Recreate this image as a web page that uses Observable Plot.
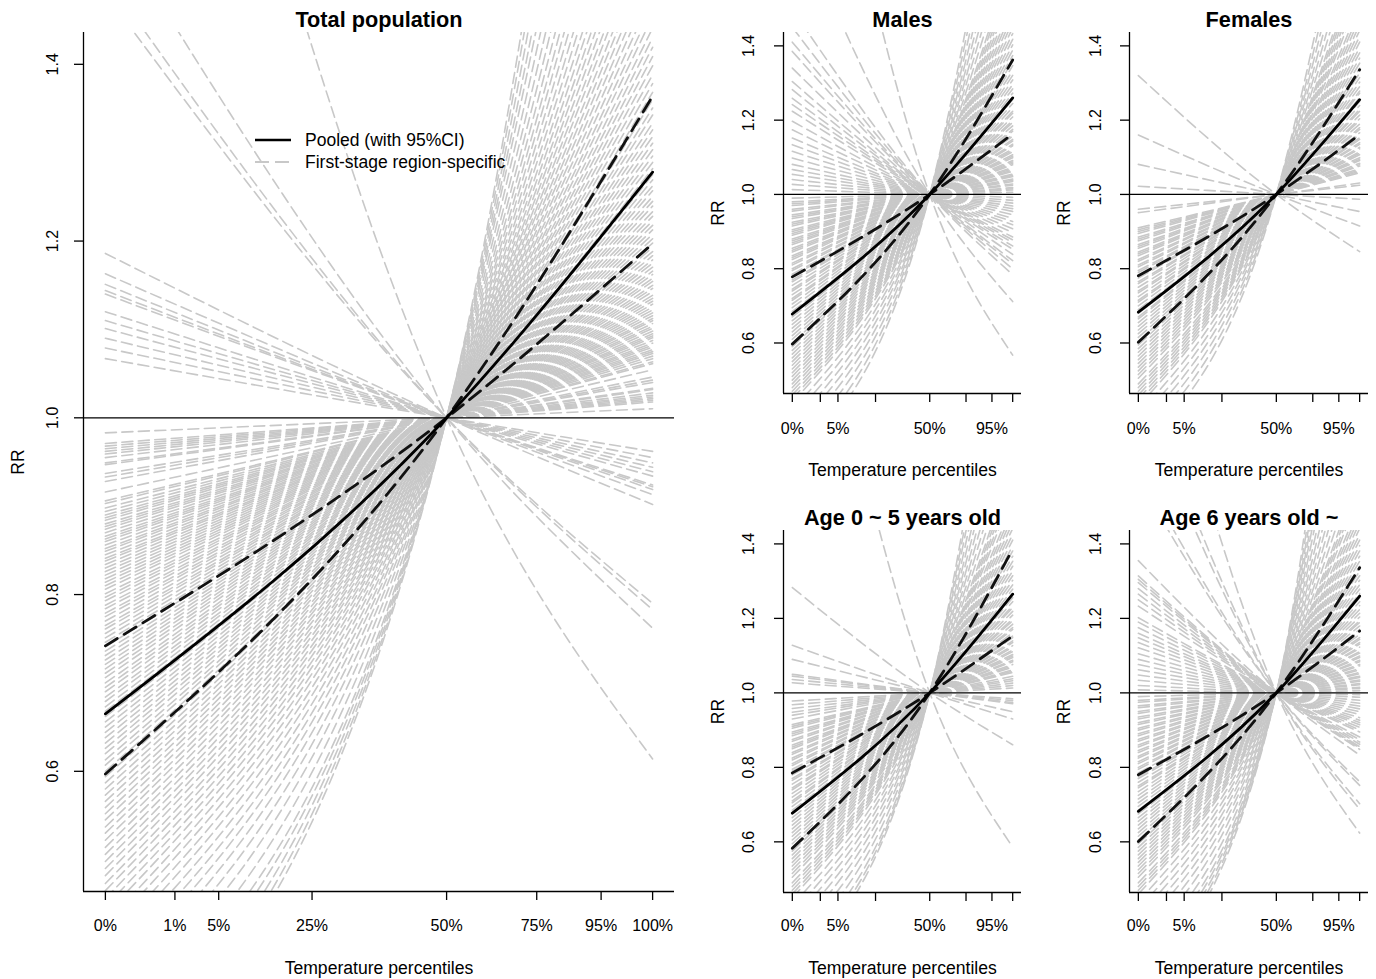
<!DOCTYPE html>
<html><head><meta charset="utf-8">
<script src="https://cdn.jsdelivr.net/npm/d3@7"></script>
<script src="https://cdn.jsdelivr.net/npm/@observablehq/plot@0.6"></script>
<style>
body{margin:0;background:#fff;}
#wrap{position:relative;width:1376px;height:979px;overflow:hidden;background:#fff;font-family:"Liberation Sans",Arial,sans-serif;}
.panel{position:absolute;}
#legend{position:absolute;left:0;top:0;font-size:17.5px;color:#000;}
#legend .it{position:absolute;white-space:nowrap;}
</style></head><body><div id="wrap"></div>
<script>
// ---- axis data ----
const pctLabels = ["0%","1%","5%","25%","50%","75%","95%","100%"];
const pctLabelsSmall = ["0%","","5%","","50%","","95%",""];
const pctTemps = [-11.5, -6.1, -2.7, 4.55, 15.0, 22.0, 27.0, 31.0];
const rrTicks = [0.6, 0.8, 1.0, 1.2, 1.4];
const xDomain = [-13.2, 32.7];
const yDomain = [0.464, 1.436];

// ---- Total population ----
const totalRR0 = [1.186,1.163,1.151,1.144,1.140,1.120,1.110,1.101,1.090,1.079,1.067,1.48,1.50,1.57,2.25,
0.983,0.971,0.968,0.965,0.962,0.959,0.955,0.949,0.947,0.937,0.933,0.928,0.916,0.906,0.903,0.898,0.894,0.890,0.887,0.884,
0.880,0.877,0.874,0.870,0.866,0.863,0.860,0.856,0.852,0.849,0.845,0.841,0.838,0.834,0.830,0.826,0.822,0.818,0.814,0.810,
0.806,0.801,0.797,0.793,0.788,0.784,0.779,0.775,0.770,0.765,0.761,0.756,0.751,0.746,0.741,0.736,0.731,0.726,0.721,0.716,
0.711,0.706,0.700,0.695,0.690,0.684,0.679,0.673,0.668,0.662,0.656,0.650,0.644,0.638,0.632,0.626,0.620,0.613,0.607,0.600,
0.594,0.587,0.580,0.573,0.566,0.559,0.552,0.545,0.537,0.530,0.522,0.514,0.506,0.498,0.490,0.482,0.473,0.465,0.456,0.447,
0.438,0.428,0.418,0.407,0.396,0.384,0.372,0.360,0.347,0.333,0.318,0.302,0.286,0.270,0.252,0.235,0.220];
const totalRR100 = [0.902,0.913,0.919,0.922,0.924,0.934,0.939,0.944,0.949,0.955,0.962,0.790,0.783,0.762,0.614,
1.0103,1.0179,1.0198,1.0217,1.0236,1.0255,1.0282,1.0320,1.0334,1.0400,1.0427,1.0461,1.0543,1.0613,1.0634,1.0669,1.0698,1.0727,1.0749,1.0771,
1.0800,1.0822,1.0845,1.0875,1.0905,1.0927,1.0950,1.0981,1.1012,1.1036,1.1067,1.1099,1.1123,1.1155,1.1187,1.1220,1.1253,1.1286,1.1319,1.1352,
1.1386,1.1429,1.1464,1.1499,1.1543,1.1578,1.1622,1.1659,1.1704,1.1750,1.1787,1.1834,1.1881,1.1929,1.1977,1.2026,1.2076,1.2126,1.2177,1.2228,
1.2280,1.2332,1.2395,1.2449,1.2503,1.2569,1.2624,1.2692,1.2749,1.2819,1.2890,1.2961,1.3034,1.3107,1.3182,1.3258,1.3334,1.3426,1.3506,1.3600,
1.3683,1.3781,1.3881,1.3983,1.4087,1.4193,1.4301,1.4411,1.4540,1.4655,1.4790,1.4928,1.5070,1.5216,1.5367,1.5518,1.5697,1.5858,1.6046,1.6240,
1.6439,1.6671,1.6907,1.7185,1.7470,1.7796,1.8142,1.8497,1.8918,1.9393,1.9935,2.0565,2.1256,2.2009,2.2945,2.395,2.488];
const totalPooled = [0.665, 1, 1.278];
const totalCIa = [0.742, 1, 1.197];
const totalCIb = [0.597, 1, 1.364];

// ---- Males ----
const malesRR0 = [1.45,1.41,1.385,1.340,1.304,1.282,1.259,1.242,1.224,1.197,1.174,1.152,1.134,1.116,1.098,1.081,1.067,1.054,1.040,1.027,1.013,1.498,1.76,2.565,
0.990,0.980,0.975,0.970,0.960,0.955,0.945,0.940,0.935,0.925,0.920,0.915,0.905,0.900,0.895,0.890,0.880,0.875,0.870,0.865,
0.855,0.850,0.845,0.835,0.830,0.825,0.815,0.810,0.800,0.795,0.785,0.780,0.770,0.765,0.755,0.745,0.740,0.730,0.720,0.715,
0.705,0.695,0.685,0.680,0.670,0.660,0.650,0.640,0.630,0.620,0.610,0.600,0.590,0.580,0.570,0.560,0.550,0.540,0.530,0.520,
0.510,0.500,0.490,0.480,0.470,0.460,0.450,0.440,0.420,0.400,0.380,0.360,0.340,0.320,0.300,0.280];
const malesRR100 = [0.7995,0.8131,0.8219,0.8384,0.8523,0.8611,0.8705,0.8777,0.8854,0.8974,0.9079,0.9183,0.9271,0.9360,0.9453,0.9542,0.9617,0.9688,0.9767,0.9841,0.9922,0.7841,0.7116,0.5672,
1.006,1.012,1.0153,1.0185,1.0249,1.0282,1.0347,1.038,1.0414,1.0481,1.0515,1.0550,1.0620,1.0655,1.0691,1.0727,1.0800,1.0838,1.0875,1.0913,
1.0989,1.1028,1.1068,1.1147,1.1187,1.1228,1.1311,1.1352,1.1438,1.1482,1.1569,1.1613,1.1704,1.1750,1.1844,1.1939,1.1987,1.2086,1.2187,1.2239,
1.2343,1.2449,1.2558,1.2613,1.2726,1.2842,1.2961,1.3082,1.3207,1.3334,1.3466,1.3600,1.3738,1.3881,1.4027,1.4177,1.4332,1.4491,1.4655,1.4824,
1.4998,1.5178,1.5367,1.5556,1.5758,1.5959,1.6176,1.6392,1.6857,1.7361,1.7905,1.8497,1.9144,1.9856,2.0644,2.1518];
const malesPooled = [0.678, 1, 1.260];
const malesCIa = [0.778, 1, 1.163];
const malesCIb = [0.597, 1, 1.362];

// ---- Females ----
const femalesRR0 = [1.32,1.16,1.081,1.022,
0.960,0.951,0.910,0.905,0.900,0.895,0.885,0.880,0.875,0.865,0.860,0.855,0.845,0.840,0.835,0.825,0.820,0.810,0.805,0.795,
0.790,0.780,0.775,0.765,0.760,0.750,0.740,0.735,0.725,0.715,0.710,0.700,0.690,0.680,0.670,0.665,0.655,0.645,0.635,0.625,
0.615,0.605,0.595,0.585,0.575,0.565,0.555,0.545,0.535,0.525,0.515,0.505,0.490,0.480,0.470,0.460,0.450,0.440,0.430,0.410,
0.390,0.370,0.350,0.330,0.310];
const femalesRR100 = [0.846,0.915,0.954,0.987,
1.0249,1.0308,1.0584,1.0620,1.0655,1.0691,1.0764,1.0800,1.0838,1.0913,1.0950,1.0989,1.1068,1.1107,1.1147,1.1228,1.1269,1.1352,1.1395,1.1482,
1.1525,1.1613,1.1659,1.1750,1.1796,1.1891,1.1987,1.2037,1.2137,1.2239,1.2290,1.2395,1.2503,1.2613,1.2726,1.2784,1.2902,1.3022,1.3145,1.3271,
1.3400,1.3533,1.3669,1.3810,1.3954,1.4102,1.4255,1.4412,1.4573,1.4740,1.4911,1.5088,1.5367,1.5556,1.5758,1.5959,1.6176,1.6392,1.6625,1.7109,
1.7633,1.8201,1.8821,1.9500,2.0250];
const femalesPooled = [0.683, 1, 1.255];
const femalesCIa = [0.781, 1, 1.161];
const femalesCIb = [0.602, 1, 1.336];

// ---- Age 0 ~ 5 ----
const age05RR0 = [1.283,1.128,1.090,1.050,1.045,1.036,1.027,2.43,
0.978,0.968,0.958,0.948,0.940,0.930,0.915,0.910,0.905,0.895,0.890,0.885,0.875,0.870,0.860,0.855,0.850,0.840,0.835,0.825,
0.820,0.810,0.805,0.795,0.790,0.780,0.770,0.765,0.755,0.745,0.740,0.730,0.720,0.710,0.705,0.695,0.685,0.675,0.665,0.655,
0.645,0.635,0.625,0.615,0.605,0.595,0.585,0.575,0.565,0.555,0.545,0.535,0.525,0.515,0.505,0.490,0.480,0.470,0.460,0.450,
0.430,0.410,0.390,0.370,0.350,0.330,0.310,0.290,0.270,0.250];
const age05RR100 = [0.8607,0.930,0.9494,0.971,0.9738,0.979,0.984,0.586,
1.0132,1.0198,1.0262,1.0327,1.038,1.0447,1.0550,1.0584,1.0620,1.0691,1.0727,1.0764,1.0838,1.0875,1.0950,1.0989,1.1028,1.1107,1.1147,1.1228,
1.1269,1.1352,1.1395,1.1482,1.1525,1.1613,1.1704,1.1750,1.1844,1.1939,1.1987,1.2086,1.2187,1.2290,1.2343,1.2449,1.2558,1.2670,1.2784,1.2902,
1.3022,1.3145,1.3271,1.3400,1.3533,1.3669,1.3810,1.3954,1.4102,1.4255,1.4412,1.4573,1.4740,1.4911,1.5088,1.5367,1.5556,1.5758,1.5959,1.6176,
1.6625,1.7109,1.7633,1.8201,1.8821,1.9500,2.0250,2.107,2.200,2.305];
const age05Pooled = [0.677, 1, 1.265];
const age05CIa = [0.785, 1, 1.153];
const age05CIb = [0.583, 1, 1.386];

// ---- Age 6 ~ ----
const age6RR0 = [1.355,1.314,1.305,1.296,1.280,1.265,1.250,1.233,1.202,1.190,1.175,1.160,1.148,1.135,1.121,1.105,1.090,1.076,1.062,1.048,1.034,1.020,1.008,1.572,1.607,1.798,1.863,2.191,
0.990,0.980,0.975,0.965,0.960,0.950,0.945,0.935,0.930,0.920,0.915,0.905,0.900,0.890,0.885,0.875,0.870,0.860,0.855,0.845,
0.840,0.830,0.825,0.815,0.810,0.800,0.795,0.785,0.775,0.770,0.760,0.750,0.745,0.735,0.725,0.715,0.705,0.695,0.685,0.675,
0.665,0.655,0.645,0.635,0.625,0.615,0.605,0.595,0.585,0.575,0.565,0.555,0.545,0.535,0.525,0.515,0.505,0.490,0.480,0.470,
0.460,0.440,0.420,0.400,0.380,0.360,0.340,0.320,0.300,0.280,0.260,0.240,0.220,0.200];
const age6RR100 = [0.8329,0.8484,0.852,0.8555,0.8619,0.8680,0.8743,0.8815,0.8951,0.9006,0.9075,0.9145,0.9203,0.9266,0.9335,0.9417,0.9494,0.9569,0.9644,0.9722,0.9801,0.9882,0.9952,0.7616,0.7517,0.7025,0.6876,0.6236,
1.006,1.012,1.0153,1.0217,1.0249,1.0314,1.0347,1.0414,1.0447,1.0515,1.0550,1.0620,1.0655,1.0727,1.0764,1.0838,1.0875,1.0950,1.0989,1.1068,
1.1107,1.1187,1.1228,1.1311,1.1352,1.1438,1.1482,1.1569,1.1659,1.1704,1.1796,1.1891,1.1939,1.2037,1.2137,1.2239,1.2343,1.2449,1.2558,1.2670,
1.2784,1.2902,1.3022,1.3145,1.3271,1.3400,1.3533,1.3669,1.3810,1.3954,1.4102,1.4255,1.4412,1.4573,1.4740,1.4911,1.5088,1.5367,1.5556,1.5758,
1.5959,1.6392,1.6857,1.7361,1.7905,1.8497,1.9144,1.9856,2.0644,2.1518,2.2500,2.3612,2.4881,2.635];
const age6Pooled = [0.682, 1, 1.260];
const age6CIa = [0.780, 1, 1.166];
const age6CIb = [0.601, 1, 1.336];

const FONT = '"Liberation Sans", Arial, Helvetica, sans-serif';
const GRAY = "#c8c8c8";
const curveTemps = [pctTemps[0], pctTemps[4], pctTemps[7]];

function panel(cfg) {
  const lines = [];
  cfg.rr0.forEach((v, i) => {
    lines.push({id: i, t: curveTemps[0], rr: v});
    lines.push({id: i, t: curveTemps[1], rr: 1});
    lines.push({id: i, t: curveTemps[2], rr: cfg.rr100[i]});
  });
  const pts = arr => arr.map((v, i) => ({t: curveTemps[i], rr: v}));
  const labelOf = new Map(pctTemps.map((t, i) => [t, cfg.labels[i]]));
  const svg = Plot.plot({
    width: cfg.width, height: cfg.height,
    marginLeft: cfg.mL, marginRight: cfg.mR, marginTop: cfg.mT, marginBottom: cfg.mB,
    x: {domain: xDomain, label: null},
    y: {domain: yDomain, label: null},
    style: {fontFamily: FONT, fontSize: "16px", color: "black", background: "white", overflow: "visible"},
    marks: [
      Plot.line(lines, {x: "t", y: "rr", z: "id", stroke: GRAY, strokeWidth: 1.6, strokeDasharray: "11,5.5", curve: "monotone-x", clip: true}),
      Plot.ruleY([1], {stroke: "black", strokeWidth: 1.3}),
      Plot.line(pts(cfg.ciA), {x: "t", y: "rr", stroke: "#111", strokeWidth: 2.8, strokeDasharray: "14,8", curve: "monotone-x", clip: true}),
      Plot.line(pts(cfg.ciB), {x: "t", y: "rr", stroke: "#111", strokeWidth: 2.8, strokeDasharray: "14,8", curve: "monotone-x", clip: true}),
      Plot.line(pts(cfg.pooled), {x: "t", y: "rr", stroke: "#000", strokeWidth: 2.8, curve: "monotone-x", clip: true}),
      Plot.ruleX([xDomain[0]], {stroke: "black", strokeWidth: 1.3}),
      Plot.ruleY([yDomain[0]], {stroke: "black", strokeWidth: 1.3}),
      Plot.axisX({ticks: pctTemps, tickSize: 9, tickPadding: cfg.tickPad, tickFormat: d => labelOf.get(d), fontSize: 16, strokeWidth: 1.3, label: null}),
      Plot.axisY({ticks: rrTicks, tickSize: 9, tickFormat: () => "", strokeWidth: 1.3, label: null}),
      Plot.text(rrTicks, {y: d => d, frameAnchor: "left", dx: cfg.yLabDx, rotate: -90, textAnchor: "middle", lineAnchor: "middle", text: d => d.toFixed(1), fontSize: 16}),
      Plot.text(["RR"], {frameAnchor: "left", dx: -65, rotate: -90, textAnchor: "middle", lineAnchor: "middle", text: d => d, fontSize: 17.5}),
      Plot.text([cfg.title], {frameAnchor: "top", dy: -12, textAnchor: "middle", lineAnchor: "middle", text: d => d, fontSize: 21.7, fontWeight: "bold"}),
      Plot.text(["Temperature percentiles"], {frameAnchor: "bottom", dy: cfg.xTitleDy, textAnchor: "middle", lineAnchor: "middle", text: d => d, fontSize: 17.6})
    ]
  });
  svg.classList.add("panel");
  svg.style.left = cfg.left + "px";
  svg.style.top = cfg.top + "px";
  svg.style.position = "absolute";
  document.getElementById("wrap").appendChild(svg);
}

panel({title: "Total population", rr0: totalRR0, rr100: totalRR100, pooled: totalPooled, ciA: totalCIa, ciB: totalCIb,
  left: 0, top: 0, width: 700, height: 979, mL: 83, mR: 26, mT: 32, mB: 88, labels: pctLabels, tickPad: 19, xTitleDy: 77, yLabDx: -31});
panel({title: "Males", rr0: malesRR0, rr100: malesRR100, pooled: malesPooled, ciA: malesCIa, ciB: malesCIb,
  left: 700, top: 0, width: 340, height: 490, mL: 83, mR: 19, mT: 32, mB: 97, labels: pctLabelsSmall, tickPad: 20, xTitleDy: 77, yLabDx: -35});
panel({title: "Females", rr0: femalesRR0, rr100: femalesRR100, pooled: femalesPooled, ciA: femalesCIa, ciB: femalesCIb,
  left: 1040, top: 0, width: 336, height: 490, mL: 89, mR: 8, mT: 32, mB: 97, labels: pctLabelsSmall, tickPad: 20, xTitleDy: 77, yLabDx: -34});
panel({title: "Age 0 ~ 5 years old", rr0: age05RR0, rr100: age05RR100, pooled: age05Pooled, ciA: age05CIa, ciB: age05CIb,
  left: 700, top: 490, width: 340, height: 489, mL: 83, mR: 19, mT: 40, mB: 87, labels: pctLabelsSmall, tickPad: 18, xTitleDy: 76, yLabDx: -35});
panel({title: "Age 6 years old ~", rr0: age6RR0, rr100: age6RR100, pooled: age6Pooled, ciA: age6CIa, ciB: age6CIb,
  left: 1040, top: 490, width: 336, height: 489, mL: 89, mR: 8, mT: 40, mB: 87, labels: pctLabelsSmall, tickPad: 18, xTitleDy: 76, yLabDx: -34});

// legend (main panel)
const legend = document.createElement("div");
legend.id = "legend";
legend.innerHTML =
  '<svg class="it" style="left:255px;top:135px" width="36" height="10"><line x1="0" y1="5" x2="36" y2="5" stroke="#000" stroke-width="2.6"/></svg>' +
  '<div class="it" style="left:305px;top:130px;line-height:20px">Pooled (with 95%CI)</div>' +
  '<svg class="it" style="left:255px;top:157px" width="36" height="10"><line x1="0" y1="5" x2="36" y2="5" stroke="' + GRAY + '" stroke-width="1.8" stroke-dasharray="14,6"/></svg>' +
  '<div class="it" style="left:305px;top:152px;line-height:20px">First-stage region-specific</div>';
document.getElementById("wrap").appendChild(legend);
</script></body></html>
